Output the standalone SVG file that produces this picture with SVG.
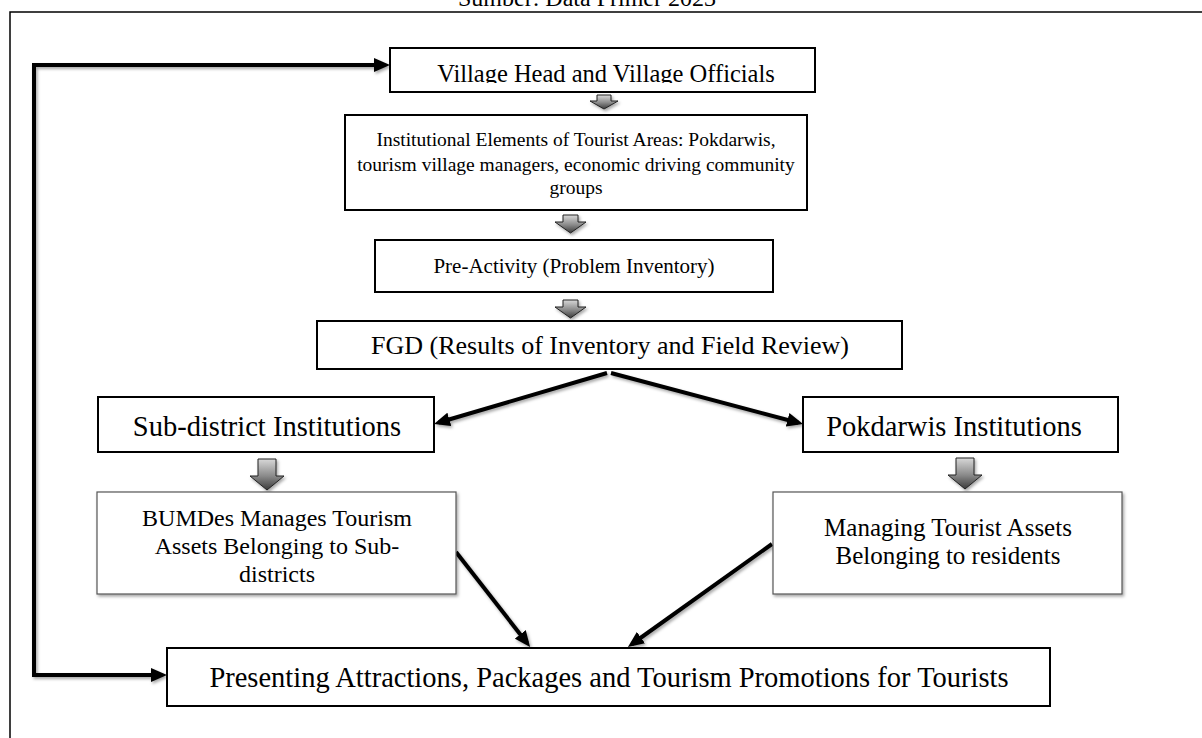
<svg xmlns="http://www.w3.org/2000/svg" width="1202" height="738" viewBox="0 0 1202 738">
  <defs>
    <style>
      .frame { fill: none; stroke: #000; stroke-width: 1.5; }
      .box { fill: #fff; stroke: #000; stroke-width: 2; }
      .box-thin { fill: #fff; stroke: #555; stroke-width: 1.2; }
      .label { font-family: "Liberation Serif", "Times New Roman", serif; fill: #000; text-anchor: middle; }
      .conn { fill: none; stroke: #000; stroke-width: 4; stroke-linejoin: miter; }
      .block { fill: url(#blockGrad); stroke: #222; stroke-width: 1; }
    </style>
    <linearGradient id="blockGrad" x1="0" y1="0" x2="0" y2="1">
      <stop offset="0" stop-color="#d8d8d8"/>
      <stop offset="0.55" stop-color="#8a8a8a"/>
      <stop offset="1" stop-color="#3a3a3a"/>
    </linearGradient>
    <filter id="shadow" x="-10%" y="-10%" width="130%" height="130%">
      <feDropShadow dx="1.5" dy="2" stdDeviation="1.5" flood-color="#000" flood-opacity="0.35"/>
    </filter>
    <marker id="head" markerUnits="userSpaceOnUse" markerWidth="16" markerHeight="14" viewBox="0 0 16 14" refX="11" refY="7" orient="auto-start-reverse">
      <path d="M0,0 L16,7 L0,14 z" fill="#000"/>
    </marker>
    <!-- the first box's label is cut just under its baseline -->
    <clipPath id="clipHead">
      <rect x="390" y="47" width="425" height="36"/>
    </clipPath>
  </defs>

  <!-- page frame and source line -->
  <path class="frame" d="M10,738 V12 H1202"/>
  <text class="label" x="587" y="5.5" font-size="24">Sumber: Data Primer 2023</text>

  <!-- connectors -->
  <g id="connectors" filter="url(#shadow)">
    <path class="conn" d="M385,65 H34 V675 H162" marker-start="url(#head)" marker-end="url(#head)"/>
    <path class="conn" d="M607,373 L438.8,422.5" marker-end="url(#head)"/>
    <path class="conn" d="M611,373 L798.2,422.7" marker-end="url(#head)"/>
    <path class="conn" d="M456,552 L527,643" marker-end="url(#head)"/>
    <path class="conn" d="M772,544 L632,644" marker-end="url(#head)"/>
  </g>

  <!-- block arrows between stacked steps -->
  <g id="block-arrows" filter="url(#shadow)">
    <path class="block" d="M597,95 h14 v6 h7 l-14,8 l-14,-8 h7 z"/>
    <path class="block" d="M563,215 h15 v7 h8 l-15.5,11 l-15.5,-11 h8 z"/>
    <path class="block" d="M563,300 h15 v7 h8 l-15.5,11 l-15.5,-11 h8 z"/>
    <path class="block" d="M258,459 h18 v17 h8 l-17,14 l-17,-14 h8 z"/>
    <path class="block" d="M956,458 h18 v17 h8 l-17,14 l-17,-14 h8 z"/>
  </g>

  <g id="village-head">
    <rect class="box" x="390" y="48" width="425" height="44"/>
    <text class="label" x="606" y="82" font-size="24.5" clip-path="url(#clipHead)">Village Head and Village Officials</text>
  </g>

  <g id="institutional-elements">
    <rect class="box" x="345" y="115" width="462" height="95"/>
    <text class="label" x="576" y="146" font-size="19.5">Institutional Elements of Tourist Areas: Pokdarwis,</text>
    <text class="label" x="576" y="171" font-size="19.5">tourism village managers, economic driving community</text>
    <text class="label" x="576" y="194" font-size="19.5">groups</text>
  </g>

  <g id="pre-activity">
    <rect class="box" x="375" y="240" width="398" height="52"/>
    <text class="label" x="574" y="273" font-size="21">Pre-Activity (Problem Inventory)</text>
  </g>

  <g id="fgd">
    <rect class="box" x="317" y="321" width="585" height="48"/>
    <text class="label" x="610" y="354" font-size="26">FGD (Results of Inventory and Field Review)</text>
  </g>

  <g id="sub-district">
    <rect class="box" x="98" y="397" width="336" height="55"/>
    <text class="label" x="267" y="436" font-size="28.5">Sub-district Institutions</text>
  </g>

  <g id="pokdarwis">
    <rect class="box" x="803" y="397" width="315" height="55"/>
    <text class="label" x="954" y="436" font-size="28.5">Pokdarwis Institutions</text>
  </g>

  <g id="bumdes">
    <rect class="box-thin" x="97" y="492" width="359" height="102" filter="url(#shadow)"/>
    <text class="label" x="277" y="526" font-size="24">BUMDes Manages Tourism</text>
    <text class="label" x="277" y="554" font-size="24">Assets Belonging to Sub-</text>
    <text class="label" x="277" y="582" font-size="24">districts</text>
  </g>

  <g id="resident-assets">
    <rect class="box-thin" x="773" y="492" width="349" height="102" filter="url(#shadow)"/>
    <text class="label" x="948" y="536" font-size="25">Managing Tourist Assets</text>
    <text class="label" x="948" y="564" font-size="25">Belonging to residents</text>
  </g>

  <g id="presenting">
    <rect class="box" x="167" y="648" width="883" height="58"/>
    <text class="label" x="609" y="687" font-size="28.5">Presenting Attractions, Packages and Tourism Promotions for Tourists</text>
  </g>
</svg>
